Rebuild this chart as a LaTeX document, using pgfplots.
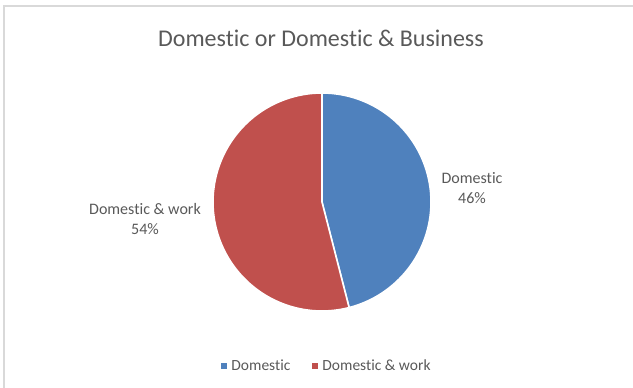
\documentclass[border=0pt]{standalone}
\usepackage{pgfplots}
\pgfplotsset{compat=1.18}
\usepackage{fontspec}
\setmainfont{Carlito}[Ligatures={NoCommon,NoDiscretionary,NoRare}]
\definecolor{domblue}{HTML}{4F81BD}
\definecolor{domred}{HTML}{C0504D}
\definecolor{txtgray}{HTML}{595959}
\definecolor{bordergray}{HTML}{D9D9D9}
% data (percent)
\def\vDomestic{46}
\def\vWork{54}
\def\cx{322}
\def\cy{186}
\def\rr{109}
\begin{document}
\begin{tikzpicture}
\pgfmathsetmacro{\fA}{\vDomestic/(\vDomestic+\vWork)}
\pgfmathsetmacro{\fB}{\vWork/(\vDomestic+\vWork)}
\pgfmathsetmacro{\aA}{90}
\pgfmathsetmacro{\aB}{90-360*\fA}
\pgfmathsetmacro{\aC}{\aB-360*\fB}
\begin{axis}[
  scale only axis, width=633pt, height=388pt,
  xmin=0, xmax=633, ymin=0, ymax=388,
  hide axis, clip=false,
  anchor=south west, at={(0,0)},
  legend columns=2,
  legend style={draw=none, fill=none, at={(axis cs:327,22)}, anchor=center,
    font=\fontsize{15.5}{18}\selectfont\color{txtgray},
    /tikz/every odd column/.append style={column sep=3pt},
    /tikz/every even column/.append style={column sep=20pt},
    inner sep=0pt},
  legend cell align=left,
]
% chart border (top and left)
\addplot[bordergray, line width=1.2pt, forget plot] coordinates {(4,0) (4,382) (633,382)};
% wedges
\addplot[fill=domblue, draw=white, line width=1.6pt, domain=\aA:\aB, samples=120, forget plot, variable=\t]
  ({\cx+\rr*cos(\t)},{\cy+\rr*sin(\t)}) -- (axis cs:\cx,\cy) -- cycle;
\addplot[fill=domred, draw=white, line width=1.6pt, domain=\aB:\aC, samples=150, forget plot, variable=\t]
  ({\cx+\rr*cos(\t)},{\cy+\rr*sin(\t)}) -- (axis cs:\cx,\cy) -- cycle;
\addlegendimage{only marks, mark=square*, mark size=2.5pt, color=domblue}
\addlegendentry{Domestic}
\addlegendimage{only marks, mark=square*, mark size=2.5pt, color=domred}
\addlegendentry{Domestic \& work}
% title and data labels
\node[txtgray, font=\fontsize{24}{29}\selectfont] at (axis cs:321,350) {Domestic or Domestic \& Business};
\node[txtgray, font=\fontsize{16}{19.5}\selectfont, align=center] at (axis cs:472,200) {Domestic\\\vDomestic\%};
\node[txtgray, font=\fontsize{16}{19.5}\selectfont, align=center] at (axis cs:145,169) {Domestic \& work\\\vWork\%};
\end{axis}
\pgfresetboundingbox
\path (0,0) rectangle (633pt,388pt);
\end{tikzpicture}
\end{document}
